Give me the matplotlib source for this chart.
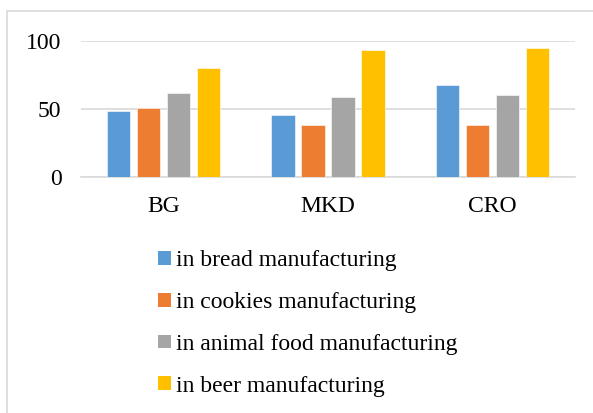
import numpy as np
import matplotlib.pyplot as plt
from matplotlib.patches import Rectangle, Patch

plt.rcParams['font.family'] = ['Liberation Serif', 'DejaVu Serif']

# Shares per country and industry
countries = ['BG', 'MKD', 'CRO']
series = ['in bread manufacturing', 'in cookies manufacturing',
          'in animal food manufacturing', 'in beer manufacturing']
bread = [48.5, 45.6, 67.2]
cookies = [50.3, 38.5, 38.0]
animal_food = [61.3, 58.6, 59.8]
beer = [79.7, 92.9, 94.4]
colors = ['#5B9BD5', '#ED7D31', '#A5A5A5', '#FFC000']
yticks = [0, 50, 100]

W, H = 593, 413
fig = plt.figure(figsize=(W / 100, H / 100), dpi=100)

# light frame around the chart area
fig.patches.append(Rectangle((7 / W, -0.1), 1.2, 1 - 11 / H + 0.1,
                             transform=fig.transFigure, fill=False,
                             edgecolor='#d9d9d9', linewidth=1.2))

ax = fig.add_axes([81 / W, 1 - 177 / H, (575 - 81) / W, (177 - 40.7) / H])

x = np.arange(len(countries))
step = 0.182
width = 0.143
for i, (vals, c) in enumerate(zip([bread, cookies, animal_food, beer], colors)):
    ax.bar(x + (i - 1.5) * step, vals, width, color=c, zorder=3,
           edgecolor='white', linewidth=0.4)

ax.set_xlim(-0.5, 2.5)
ax.set_ylim(0, 100)
ax.set_yticks(yticks)
ax.set_xticks(x)
ax.set_xticklabels(countries)
ax.tick_params(axis='both', length=0, labelsize=17)
ax.tick_params(axis='y', pad=14)
ax.tick_params(axis='x', pad=14)
ax.grid(axis='y', color='#d9d9d9', linewidth=1.2, zorder=0)
for s in ['top', 'right', 'left']:
    ax.spines[s].set_visible(False)
ax.spines['bottom'].set_color('#d9d9d9')
ax.spines['bottom'].set_linewidth(1.2)

handles = [Patch(facecolor=c, edgecolor='none') for c in colors]
fig.legend(handles, series, loc='upper left',
           bbox_to_anchor=(137 / W, 1 - 229 / H), frameon=False,
           fontsize=17, handlelength=0.52, handleheight=0.52,
           handletextpad=0.25, labelspacing=0.88)

fig.savefig('out.png', dpi=100)
